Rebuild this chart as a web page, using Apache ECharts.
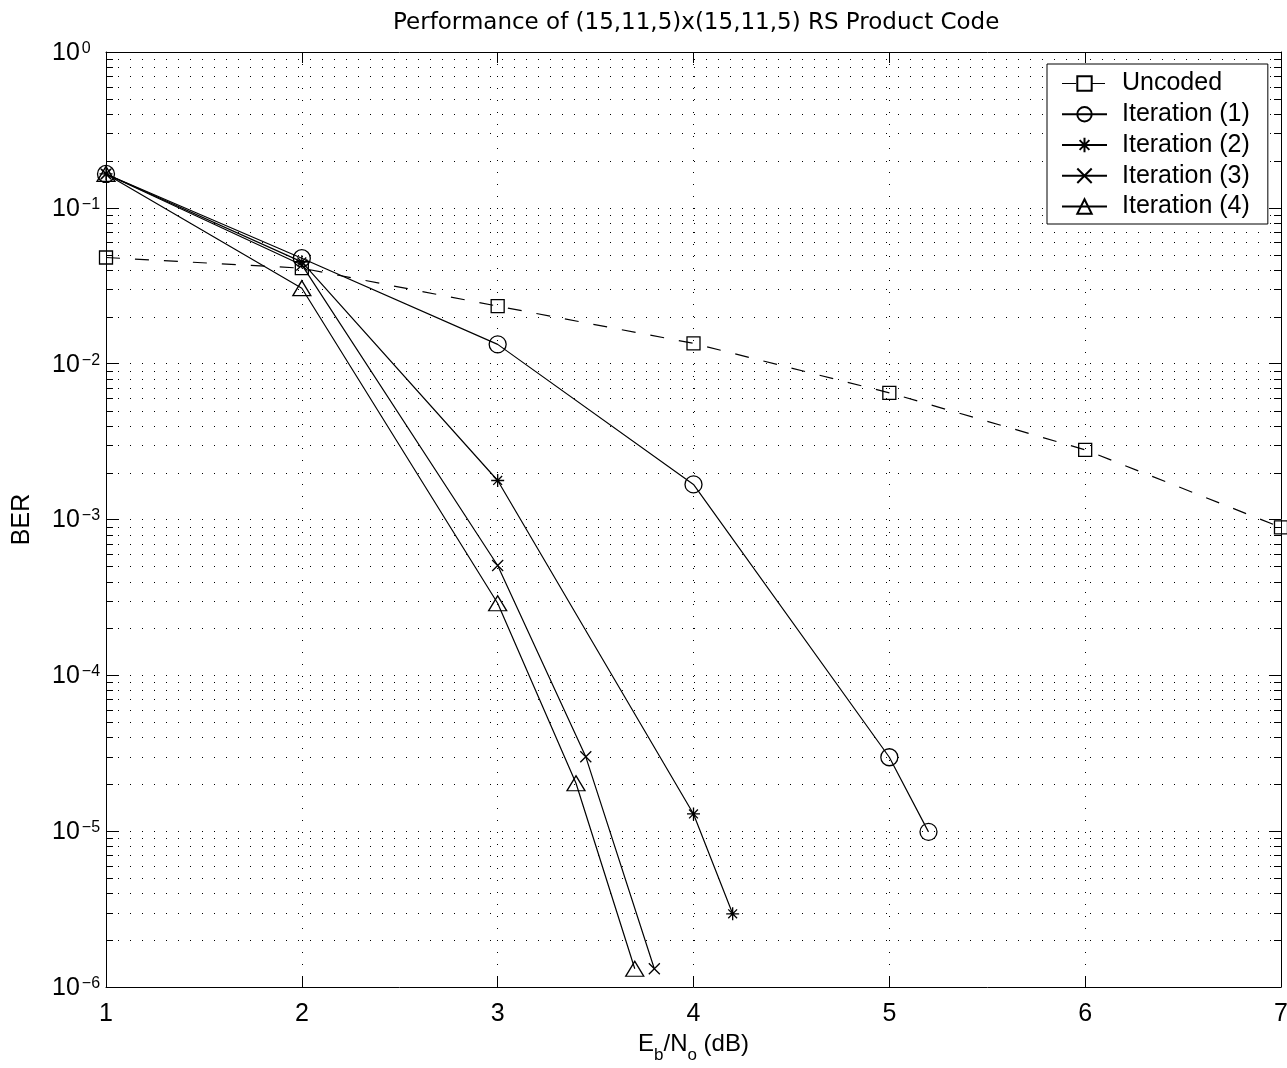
<!DOCTYPE html>
<html>
<head>
<meta charset="utf-8">
<script src="https://cdn.jsdelivr.net/npm/echarts@6/dist/echarts.min.js"></script>
<style>
html,body{margin:0;padding:0;background:#fff;}
#chart{width:1287px;height:1068px;}
</style>
</head>
<body>
<div id="chart"></div>
<script>
// ---- data ----
const titleText = 'Performance of (15,11,5)x(15,11,5) RS Product Code';
const seriesNames = ['Uncoded', 'Iteration (1)', 'Iteration (2)', 'Iteration (3)', 'Iteration (4)'];

const xUncoded = [1, 2, 3, 4, 5, 6, 7];
const berUncoded = [0.048, 0.041, 0.0234, 0.0135, 0.0065, 0.0028, 0.00089];

const xIter1 = [1, 2, 3, 4, 5, 5.2];
const berIter1 = [0.165, 0.0475, 0.0133, 0.00168, 2.98e-5, 9.9e-6];

const xIter2 = [1, 2, 3, 4, 4.2];
const berIter2 = [0.165, 0.045, 0.00178, 1.29e-5, 2.95e-6];

const xIter3 = [1, 2, 3, 3.45, 3.8];
const berIter3 = [0.165, 0.043, 5.07e-4, 3.0e-5, 1.31e-6];

const xIter4 = [1, 2, 3, 3.4, 3.7];
const berIter4 = [0.165, 0.0305, 2.9e-4, 2.03e-5, 1.31e-6];

const xTicks = [1, 2, 3, 4, 5, 6, 7];
const yDecades = [-6, -5, -4, -3, -2, -1, 0];
const yMinorMantissas = [2, 3, 4, 5, 6, 7, 8, 9];

// ---- build ----
const FONT = 'Liberation Sans, Arial, Helvetica, sans-serif';
const TITLE_FONT = 'DejaVu Sans, Liberation Sans, sans-serif';
const pairs = (xs, ys) => xs.map((x, i) => [x, ys[i]]);

const minorValues = [];
yDecades.slice(0, -1).forEach(d => {
  yMinorMantissas.forEach(m => minorValues.push([xTicks[0], m * Math.pow(10, d)]));
});

const xMin = xTicks[0], xMax = xTicks[xTicks.length - 1];
const yMin = Math.pow(10, yDecades[0]), yMax = Math.pow(10, yDecades[yDecades.length - 1]);

const DOT = [1, 11];
const DASH = [14, 15];
const markerStyle = { color: 'rgba(0,0,0,0)', borderColor: '#000', borderWidth: 1.3 };
const lineBase = { color: '#000', width: 1.2 };

const starPath = 'path://M5,0L5,10M0,5L10,5M1.6,1.6L8.4,8.4M8.4,1.6L1.6,8.4';
const xPath = 'path://M0,0L10,10M10,0L0,10';

function mkSeries(name, xs, ys, symbol, size, dashed) {
  return {
    name: name,
    type: 'line',
    data: pairs(xs, ys),
    symbol: symbol,
    symbolSize: size,
    showAllSymbol: true,
    itemStyle: markerStyle,
    lineStyle: Object.assign({}, lineBase, { type: dashed ? DASH : 'solid' }),
    emphasis: { disabled: true },
    animation: false,
    z: 5
  };
}

const chart = echarts.init(document.getElementById('chart'), null, { renderer: 'canvas' });

const yLabelFmt = v => {
  const e = Math.round(Math.log10(v));
  const s = e < 0 ? '\u2212' + (-e) : String(e);
  return '{b|10}{s|' + s + '}';
};

const legendData = seriesNames.map((n, i) => i === 0
  ? { name: n, lineStyle: { type: DASH, color: '#000', width: 1.2 } }
  : { name: n });

const option = {
  backgroundColor: '#fff',
  animation: false,
  title: {
    text: titleText,
    left: 388,
    top: 7,
    textStyle: { fontFamily: TITLE_FONT, fontSize: 23, fontWeight: 'normal', color: '#000' }
  },
  legend: {
    data: legendData,
    orient: 'vertical',
    left: 1047,
    top: 64,
    padding: [7, 18, 5, 14],
    itemWidth: 45,
    itemHeight: 18,
    itemGap: 5.75,
    backgroundColor: '#fff',
    borderColor: '#000',
    borderWidth: 1,
    borderRadius: 0,
    textStyle: { fontFamily: FONT, fontSize: 25, lineHeight: 25, color: '#000', padding: [0, 0, 0, 10] },
    selectedMode: false,
    z: 10
  },
  grid: { left: 106, top: 52, width: 1175, height: 935, containLabel: false, outerBoundsMode: 'none' },
  xAxis: [
    {
      type: 'value', min: xMin, max: xMax, interval: 1, position: 'bottom',
      name: '{n|E}{sub|b}{n|/N}{sub|o}{n| (dB)}',
      nameLocation: 'middle', nameGap: 40,
      nameTextStyle: {
        fontFamily: FONT, color: '#000',
        rich: {
          n: { fontFamily: FONT, fontSize: 24, lineHeight: 24, verticalAlign: 'top', color: '#000' },
          sub: { fontFamily: FONT, fontSize: 17, lineHeight: 32, verticalAlign: 'bottom', color: '#000' }
        }
      },
      axisLine: { show: true, onZero: false, lineStyle: { color: '#000', width: 1 } },
      axisTick: { show: true, inside: true, length: 11, lineStyle: { color: '#000', width: 1 } },
      axisLabel: { show: true, margin: 15, fontFamily: FONT, fontSize: 25, color: '#000' },
      splitLine: { show: true, lineStyle: { color: '#000', width: 1, type: DOT } }
    },
    {
      type: 'value', min: xMin, max: xMax, interval: 1, position: 'top',
      axisLine: { show: true, onZero: false, lineStyle: { color: '#000', width: 1 } },
      axisTick: { show: true, inside: true, length: 11, lineStyle: { color: '#000', width: 1 } },
      axisLabel: { show: false },
      splitLine: { show: false }
    }
  ],
  yAxis: [
    {
      type: 'log', logBase: 10, min: yMin, max: yMax, interval: 1, position: 'left',
      name: 'BER', nameLocation: 'middle', nameGap: 71, nameRotate: 90,
      nameTextStyle: { fontFamily: FONT, fontSize: 25, color: '#000' },
      axisLine: { show: true, onZero: false, lineStyle: { color: '#000', width: 1 } },
      axisTick: { show: true, inside: true, length: 12, lineStyle: { color: '#000', width: 1 } },
      axisLabel: {
        show: true, margin: 54, align: 'left', formatter: yLabelFmt, padding: [2, 0, 0, 0],
        rich: {
          b: { fontFamily: FONT, fontSize: 25, lineHeight: 25, verticalAlign: 'bottom', padding: [15, 0, 0, 0], color: '#000' },
          s: { fontFamily: FONT, fontSize: 16, lineHeight: 16, verticalAlign: 'top', padding: [0, 0, 0, 2], color: '#000' }
        }
      },
      splitLine: { show: true, lineStyle: { color: '#000', width: 1, type: DOT } }
    },
    {
      type: 'log', logBase: 10, min: yMin, max: yMax, interval: 1, position: 'right',
      axisLine: { show: true, onZero: false, lineStyle: { color: '#000', width: 1 } },
      axisTick: { show: true, inside: true, length: 12, lineStyle: { color: '#000', width: 1 } },
      axisLabel: { show: false },
      splitLine: { show: false }
    }
  ],
  series: [
    {
      name: 'minor-grid',
      type: 'custom',
      coordinateSystem: 'cartesian2d',
      xAxisIndex: 0, yAxisIndex: 0,
      data: minorValues,
      encode: { x: 0, y: 1 },
      silent: true,
      z: 1,
      renderItem: function (params, api) {
        const v = api.value(1);
        const p0 = api.coord([xMin, v]);
        const p1 = api.coord([xMax, v]);
        const y = Math.round(p0[1]) + 0.5;
        return {
          type: 'group',
          children: [
            { type: 'line', shape: { x1: p0[0], y1: y, x2: p1[0], y2: y },
              style: { stroke: '#000', lineWidth: 1, lineDash: DOT } },
            { type: 'line', shape: { x1: p0[0], y1: y, x2: p0[0] + 7, y2: y },
              style: { stroke: '#000', lineWidth: 1 } },
            { type: 'line', shape: { x1: p1[0] - 7, y1: y, x2: p1[0], y2: y },
              style: { stroke: '#000', lineWidth: 1 } }
          ]
        };
      }
    },
    mkSeries(seriesNames[0], xUncoded, berUncoded, 'rect', 13, true),
    mkSeries(seriesNames[1], xIter1, berIter1, 'circle', 17, false),
    mkSeries(seriesNames[2], xIter2, berIter2, starPath, 13, false),
    mkSeries(seriesNames[3], xIter3, berIter3, xPath, 11, false),
    mkSeries(seriesNames[4], xIter4, berIter4, 'triangle', [18, 15], false)
  ]
};
chart.setOption(option);
</script>
</body>
</html>
